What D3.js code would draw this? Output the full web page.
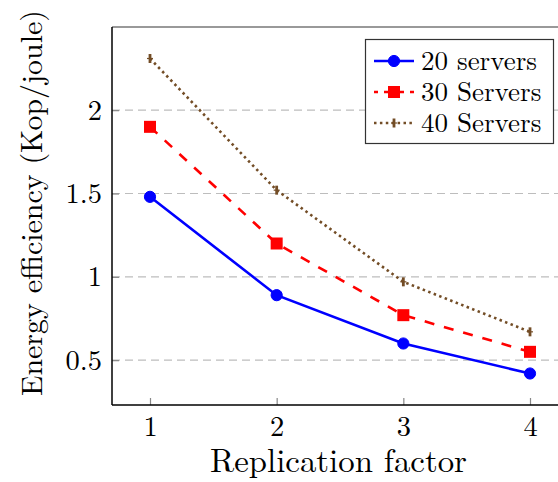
<!DOCTYPE html>
<html><head><meta charset="utf-8">
<script src="https://cdn.jsdelivr.net/npm/d3@7"></script>
<style>body{margin:0;background:#fff}svg{display:block}</style>
</head><body>
<svg id="c" width="558" height="482"></svg>
<script>
const categories = [1, 2, 3, 4];
const s20 = [1.48, 0.89, 0.60, 0.42];
const s30 = [1.90, 1.20, 0.77, 0.55];
const s40 = [2.31, 1.52, 0.97, 0.67];
const yTicks = [0.5, 1, 1.5, 2];
const seriesNames = ["20 servers", "30 Servers", "40 Servers"];
const FONT = "Latin Modern Roman";

const svg = d3.select("#c");
const L = 112, T = 27, B = 405, R = 568;
const x = d3.scaleLinear().domain([0.7, 4.3]).range([L, R]);
const y = d3.scaleLinear().domain([0.231, 2.499]).range([B, T]);

function fit(sel, target) {
  const w = sel.node().getComputedTextLength();
  const fs = +sel.attr("font-size");
  if (w > 0) sel.attr("font-size", fs * target / w);
}

svg.append("g").selectAll("line").data(yTicks).join("line")
  .attr("x1", L).attr("x2", R).attr("y1", d => y(d)).attr("y2", d => y(d))
  .attr("stroke", "#bdbdbd").attr("stroke-width", 1.2).attr("stroke-dasharray", "8,5");

const xAxis = d3.axisBottom(x).tickValues(categories).tickSize(-7).tickFormat(d3.format("d")).tickPadding(13);
const gx = svg.append("g").attr("transform", `translate(0,${B})`).call(xAxis);
gx.select(".domain").remove();
gx.selectAll(".tick line").attr("stroke", "#888").attr("stroke-width", 1.2);
gx.selectAll("text").attr("font-family", FONT).attr("font-size", 28.5).attr("fill", "#000").attr("dy", "0.62em");

const yAxis = d3.axisLeft(y).tickValues(yTicks).tickSize(-7).tickFormat(d => String(d)).tickPadding(10);
const gy = svg.append("g").attr("transform", `translate(${L},0)`).call(yAxis);
gy.select(".domain").remove();
gy.selectAll(".tick line").attr("stroke", "#888").attr("stroke-width", 1.2);
gy.selectAll("text").attr("font-family", FONT).attr("font-size", 28.5).attr("fill", "#000").attr("dy", "0.32em");

svg.append("line").attr("x1", L).attr("x2", R).attr("y1", T).attr("y2", T).attr("stroke", "#777").attr("stroke-width", 1.5);
svg.append("line").attr("x1", L).attr("x2", L).attr("y1", T).attr("y2", B).attr("stroke", "#000").attr("stroke-width", 1.5);
svg.append("line").attr("x1", L).attr("x2", R).attr("y1", B).attr("y2", B).attr("stroke", "#000").attr("stroke-width", 1.5);

const line = d3.line().x((d, i) => x(categories[i])).y(d => y(d));
const series = [
  {vals: s20, color: "#0000ff", dash: null, width: 2.6, marker: "circle"},
  {vals: s30, color: "#ff0000", dash: "10,10", width: 2.6, marker: "square"},
  {vals: s40, color: "#734d26", dash: "2.5,3.4", width: 2.6, marker: "plus"}
];

function drawMarker(g, m, cx, cy, color) {
  if (m === "circle") g.append("circle").attr("cx", cx).attr("cy", cy).attr("r", 5.6).attr("fill", color).attr("stroke", color);
  else if (m === "square") g.append("rect").attr("x", cx - 6).attr("y", cy - 6).attr("width", 12).attr("height", 12).attr("fill", color);
  else {
    g.append("line").attr("x1", cx).attr("x2", cx).attr("y1", cy - 4.5).attr("y2", cy + 4.5).attr("stroke", color).attr("stroke-width", 2.8);
    g.append("line").attr("x1", cx - 3).attr("x2", cx + 3).attr("y1", cy).attr("y2", cy).attr("stroke", color).attr("stroke-width", 1.2);
  }
}

series.slice().reverse().forEach(s => {
  svg.append("path").attr("d", line(s.vals)).attr("fill", "none").attr("stroke", s.color)
    .attr("stroke-width", s.width).attr("stroke-dasharray", s.dash);
  const g = svg.append("g");
  s.vals.forEach((v, i) => drawMarker(g, s.marker, x(categories[i]), y(v), s.color));
});

const lg = svg.append("g");
lg.append("rect").attr("x", 365.5).attr("y", 39.5).attr("width", 188).attr("height", 104)
  .attr("fill", "#fff").attr("stroke", "#333").attr("stroke-width", 1.2);
let legFs = null;
seriesNames.forEach((n, i) => {
  const s = series[i], cy = 61 + i * 31;
  lg.append("line").attr("x1", 374).attr("x2", 414).attr("y1", cy).attr("y2", cy)
    .attr("stroke", s.color).attr("stroke-width", s.width).attr("stroke-dasharray", s.dash === "10,10" ? "4,6,20,6" : s.dash);
  drawMarker(lg, s.marker, 394, cy, s.color);
  const t = lg.append("text").attr("x", 421).attr("y", cy).attr("dy", "0.33em")
    .attr("font-family", FONT).attr("font-size", 26).attr("fill", "#000").text(n);
  if (i === 0) { fit(t, 116); legFs = t.attr("font-size"); } else t.attr("font-size", legFs);
});

const xt = svg.append("text").attr("x", 338.5).attr("y", 472).attr("text-anchor", "middle")
  .attr("font-family", FONT).attr("font-size", 30).attr("fill", "#000").text("Replication factor");
fit(xt, 257);
const yt = svg.append("text").attr("transform", "translate(42,203) rotate(-90)").attr("text-anchor", "middle")
  .attr("font-family", FONT).attr("font-size", 30).attr("fill", "#000").text("Energy efficiency (Kop/joule)");
fit(yt, 386);
</script>
</body></html>
